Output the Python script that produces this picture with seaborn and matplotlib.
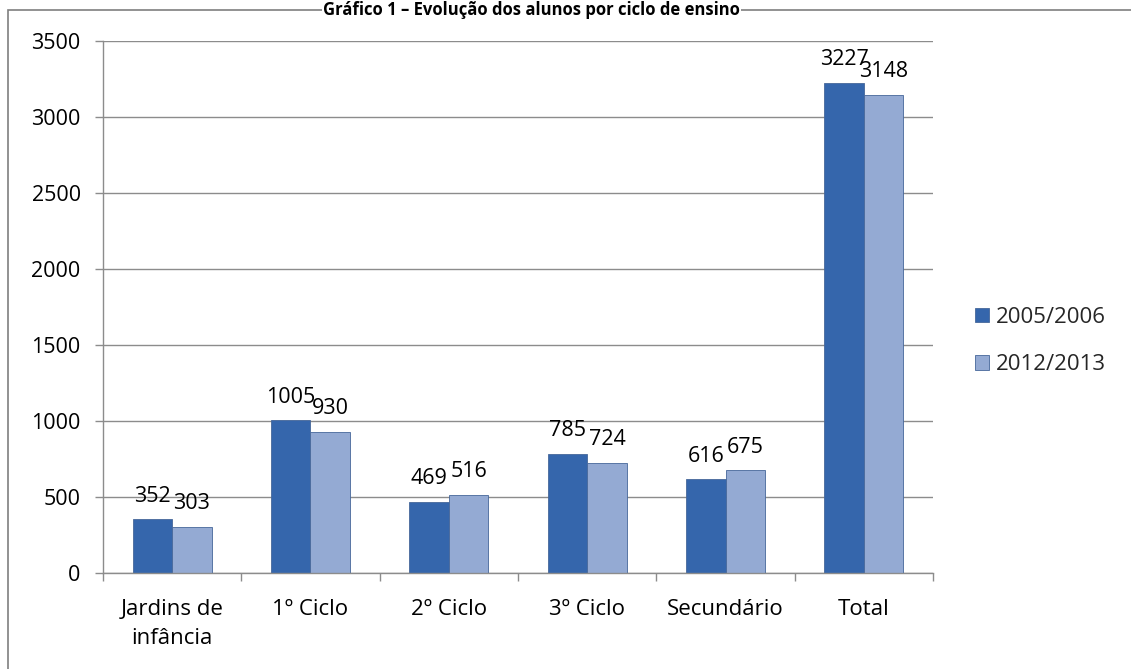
import matplotlib
matplotlib.use("Agg")
import matplotlib.pyplot as plt
import seaborn as sns
import pandas as pd
from matplotlib.patches import Rectangle

categories = ["Jardins de\ninfância", "1º Ciclo", "2º Ciclo", "3º Ciclo", "Secundário", "Total"]
series_names = ["2005/2006", "2012/2013"]
values_2005 = [352, 1005, 469, 785, 616, 3227]
values_2012 = [303, 930, 516, 724, 675, 3148]
yticks = [0, 500, 1000, 1500, 2000, 2500, 3000, 3500]
title = "Gráfico 1 – Evolução dos alunos por ciclo de ensino"

df = pd.DataFrame({
    "cat": categories * 2,
    "serie": [series_names[0]] * len(categories) + [series_names[1]] * len(categories),
    "val": values_2005 + values_2012,
})

sns.set_theme(style="white")
plt.rcParams["font.family"] = ["Open Sans", "DejaVu Sans"]

fig = plt.figure(figsize=(11.31, 6.69), dpi=100)
ax = fig.add_axes([0.091, 0.1435, 0.734, 0.7952])

palette = {series_names[0]: "#3566AC", series_names[1]: "#94AAD3"}
sns.barplot(data=df, x="cat", y="val", hue="serie", palette=palette,
            width=0.57, ax=ax, saturation=1, edgecolor="#46679A", linewidth=0.6)

for cont in ax.containers:
    ax.bar_label(cont, labels=[f"{int(v)}" for v in cont.datavalues],
                 padding=9, fontsize=15.5, color="#000000")

ax.set_ylim(0, 3500)
ax.set_yticks(yticks)
ax.set_xlim(-0.5, len(categories) - 0.5)
ax.set_xlabel("")
ax.set_ylabel("")
ax.yaxis.grid(True, color="#8C8C8C", linewidth=1)
ax.set_axisbelow(True)
for s in ["top", "right"]:
    ax.spines[s].set_visible(False)
for s in ["left", "bottom"]:
    ax.spines[s].set_color("#8C8C8C")
    ax.spines[s].set_linewidth(1)
ax.tick_params(axis="y", labelsize=15.5, colors="#000000", length=6, width=1,
               direction="out", color="#8C8C8C", left=True, pad=10)
ax.tick_params(axis="x", which="major", labelsize=16, colors="#000000",
               bottom=False, pad=13)
for lbl in ax.get_xticklabels():
    lbl.set_linespacing(1.5)
ax.set_xticks([i - 0.5 for i in range(len(categories) + 1)], minor=True)
ax.tick_params(axis="x", which="minor", length=6, width=1, color="#8C8C8C", bottom=True)

leg = ax.legend(loc="center left", bbox_to_anchor=(1.04, 0.436), frameon=False,
                fontsize=16, handlelength=0.6, handleheight=0.6, handletextpad=0.35,
                labelspacing=1.2, borderaxespad=0)

fig.patches.append(Rectangle((8 / 1131, -0.01), 1.02, 1 - 10 / 669 + 0.01,
                             transform=fig.transFigure, fill=False,
                             edgecolor="#7F7F7F", linewidth=1.2))
fig.text(0.47, 0.999, title, ha="center", va="top", fontsize=12,
         fontweight="bold", color="#000000",
         bbox=dict(facecolor="white", edgecolor="none", pad=0.5))

fig.savefig("out.png", dpi=100)
